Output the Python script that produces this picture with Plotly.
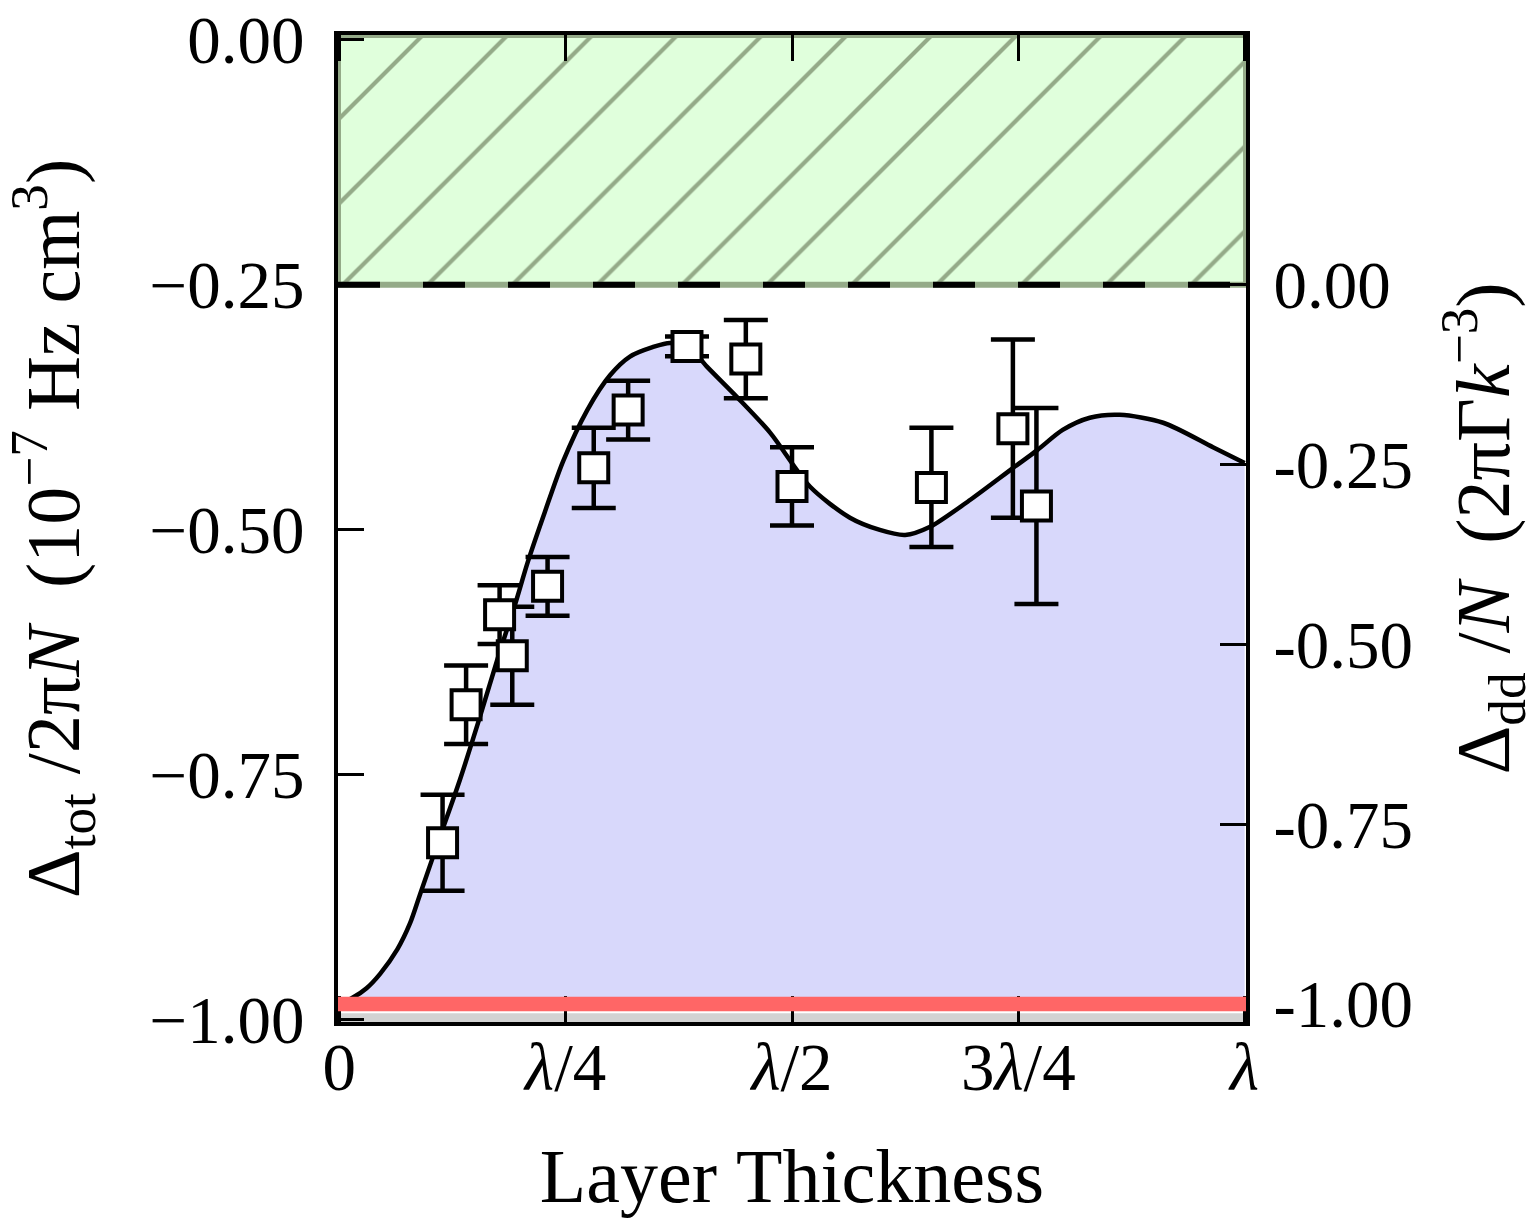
import plotly.graph_objects as go

# ---------------- data ----------------
# measured points (left axis: Delta_tot / 2 pi N, 1e-7 Hz cm^3), x in units of lambda
x_meas = [0.114, 0.140, 0.177, 0.191, 0.230, 0.281, 0.319, 0.384, 0.449, 0.500, 0.654, 0.744, 0.770]
y_meas = [-0.820, -0.679, -0.587, -0.629, -0.558, -0.437, -0.378, -0.313, -0.326, -0.456, -0.457, -0.397, -0.476]
y_err = [0.049, 0.040, 0.030, 0.050, 0.030, 0.041, 0.030, 0.010, 0.040, 0.040, 0.061, 0.091, 0.100]

# theory curve (right axis: Delta_dd / N, 2 pi Gamma k^-3)
x_theory = [0.000, 0.015, 0.030, 0.045, 0.064, 0.078, 0.089, 0.111, 0.133, 0.155, 0.177, 0.194, 0.208,
            0.227, 0.247, 0.274, 0.299, 0.321, 0.346, 0.365, 0.387, 0.406, 0.439, 0.476, 0.520,
            0.564, 0.597, 0.625, 0.652, 0.697, 0.744, 0.771, 0.799, 0.829, 0.862, 0.910, 0.965, 1.000]
y_theory = [-1.000, -0.991, -0.978, -0.958, -0.924, -0.888, -0.848, -0.768, -0.689, -0.602, -0.511, -0.445, -0.386,
            -0.316, -0.246, -0.174, -0.126, -0.100, -0.087, -0.081, -0.088, -0.114, -0.156, -0.206, -0.281,
            -0.324, -0.341, -0.348, -0.337, -0.299, -0.255, -0.230, -0.202, -0.185, -0.181, -0.192, -0.226, -0.248]

x_tickvals = [0, 0.25, 0.5, 0.75, 1.0]
x_ticktext = ["0", "<i>λ</i>/4", "<i>λ</i>/2", "3<i>λ</i>/4", "<i>λ</i>"]
y_tickvals = [0.0, -0.25, -0.5, -0.75, -1.0]
y_ticktext = ["0.00", "−0.25", "−0.50", "−0.75", "−1.00"]
y2_tickvals = [0.0, -0.25, -0.5, -0.75, -1.0]
y2_ticktext = ["0.00", "-0.25", "-0.50", "-0.75", "-1.00"]

threshold_left = -0.25       # hatched region starts here (left axis)
theory_floor = -1.0          # limit of the theory (right axis)
band_half = 0.01             # red band half width (right axis)

X_RANGE = [-0.0015, 1.0015]
Y_RANGE = [-1.003, 0.005]
Y2_RANGE = [-1.025, 0.347]

FONT = "Liberation Serif"
hatch_bg = "rgb(224,255,220)"
hatch_fg = "rgb(148,170,136)"
fill_blue = "rgb(216,216,251)"
red_band = "rgb(255,102,102)"
SP = "\u00a0"

fig = go.Figure()

# hatched forbidden region
fig.add_trace(go.Scatter(
    x=[X_RANGE[0], X_RANGE[1], X_RANGE[1], X_RANGE[0], X_RANGE[0]],
    y=[threshold_left, threshold_left, Y_RANGE[1], Y_RANGE[1], threshold_left],
    mode="lines", fill="toself", fillcolor=hatch_bg,
    fillpattern=dict(shape="/", bgcolor=hatch_bg, fgcolor=hatch_fg, fgopacity=1,
                     size=60, solidity=0.07),
    line=dict(color=hatch_fg, width=6), hoverinfo="skip", showlegend=False,
    xaxis="x", yaxis="y"))

# baseline for the theory fill
fig.add_trace(go.Scatter(
    x=[x_theory[0], x_theory[-1]], y=[theory_floor, theory_floor],
    mode="lines", line=dict(width=0, color="rgba(0,0,0,0)"),
    hoverinfo="skip", showlegend=False, xaxis="x", yaxis="y2"))

# theory curve
fig.add_trace(go.Scatter(
    x=x_theory, y=y_theory, mode="lines", fill="tonexty", fillcolor=fill_blue,
    line=dict(color="black", width=4.5, shape="spline", smoothing=0.8),
    showlegend=False, xaxis="x", yaxis="y2"))

# measurements (on invisible copies of the axes so they sit above the fill)
fig.add_trace(go.Scatter(
    x=x_meas, y=y_meas, mode="markers",
    marker=dict(symbol="square", size=29, color="white", line=dict(color="black", width=4)),
    error_y=dict(type="data", array=y_err, visible=True, color="black", thickness=4.5, width=22),
    showlegend=False, xaxis="x2", yaxis="y3"))

shapes = [
    dict(type="rect", xref="x domain", yref="y", x0=0, x1=1, y0=-1.006, y1=-0.994,
         fillcolor="rgb(210,210,210)", line=dict(width=0), layer="below"),
    dict(type="rect", xref="x domain", yref="y2", x0=0, x1=1,
         y0=theory_floor - band_half, y1=theory_floor + band_half,
         fillcolor=red_band, line=dict(width=0), layer="above"),
    dict(type="line", xref="x domain", yref="y", x0=0, x1=1, y0=threshold_left, y1=threshold_left,
         line=dict(color="black", width=6, dash="42px,43px"), layer="above"),
]

axis_common = dict(showgrid=False, zeroline=False, showline=True, linecolor="black", linewidth=4,
                   ticks="inside", ticklen=26, tickwidth=3, tickcolor="black", automargin=False,
                   tickfont=dict(family=FONT, size=67, color="black"))

left_title = ("Δ<sub>tot</sub>" + SP + "/2π<i>N</i>" + SP * 2 + "(10<sup>−7</sup>" + SP +
              "Hz" + SP + "cm<sup>3</sup>)")
right_title = "Δ<sub>dd</sub>" + SP + "/<i>N</i>" + SP * 2 + "(2πΓ<i>k</i><sup>−3</sup>)"

fig.update_layout(
    width=1537, height=1219,
    margin=dict(l=338, r=291, t=35, b=197, autoexpand=False),
    paper_bgcolor="white", plot_bgcolor="white",
    shapes=shapes,
    font=dict(family=FONT, color="black"),
    xaxis=dict(range=X_RANGE, tickvals=x_tickvals, ticktext=x_ticktext, mirror="ticks",
               showticklabels=False,
               title=dict(text="Layer" + SP + "Thickness", font=dict(family=FONT, size=76), standoff=125),
               **axis_common),
    # tick labels of the x axis, drawn slightly closer to the frame
    xaxis2=dict(range=X_RANGE, tickvals=x_tickvals, ticktext=x_ticktext, overlaying="x",
                anchor="free", position=0.0, side="bottom", showline=False, showgrid=False,
                zeroline=False, ticks="", automargin=False,
                tickfont=dict(family=FONT, size=67, color="black")),
    yaxis=dict(range=Y_RANGE, tickvals=y_tickvals, ticktext=y_ticktext, ticklabelstandoff=16,
               title=dict(text=left_title, font=dict(family=FONT, size=76), standoff=46),
               **axis_common),
    yaxis2=dict(range=Y2_RANGE, tickvals=y2_tickvals, ticktext=y2_ticktext, overlaying="y", side="right",
                anchor="x", ticklabelstandoff=10,
                title=dict(text=right_title, font=dict(family=FONT, size=76), standoff=52),
                **axis_common),
    yaxis3=dict(range=Y_RANGE, overlaying="y", visible=False, anchor="x"),
)

fig.write_html("out.html")
